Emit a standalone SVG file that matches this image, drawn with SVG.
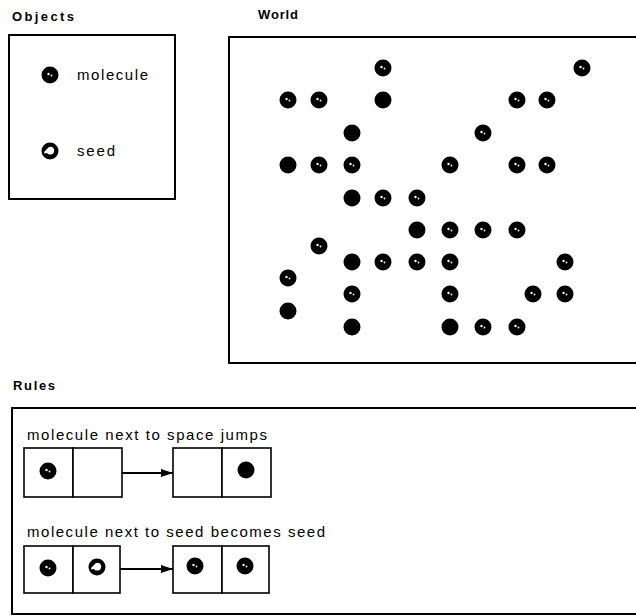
<svg xmlns="http://www.w3.org/2000/svg" width="636" height="616" viewBox="0 0 636 616">
<style>
  .title{font-family:"Liberation Sans",Arial,sans-serif;font-weight:bold;font-size:13px;fill:#000}
  .lbl{font-family:"Liberation Sans",Arial,sans-serif;font-size:15px;fill:#000}
  .box{fill:none;stroke:#000;stroke-width:2}
  .cell{fill:#fff;stroke:#000;stroke-width:1.6}
  .conn{fill:none;stroke:#000;stroke-width:2}
</style>
<defs>
  <g id="mol">
    <circle r="8.5" fill="#000"/>
    <circle cx="-1.5" cy="-1" r="1.2" fill="#fff"/>
    <circle cx="1.5" cy="0.5" r="0.9" fill="#fff"/>
  </g>
  <g id="seed">
    <circle r="8.5" fill="#000"/>
    <path d="M-3,-2 Q-1,-5 2,-4 Q5,-2 4,1 Q3,4 0,3.5 Q-2,3.5 -3,2 L-6,2.5 L-5.5,0.5 Z" fill="#fff"/>
  </g>
  <circle id="dot" r="8.5" fill="#000"/>
  <marker id="ah" viewBox="0 0 12 10" refX="12" refY="5" markerWidth="12" markerHeight="10" markerUnits="userSpaceOnUse" orient="auto">
    <path d="M0,1 L12,5 L0,9 Z" fill="#000"/>
  </marker>
</defs>

<g id="objects">
  <text class="title" x="12" y="21" textLength="62" lengthAdjust="spacing">Objects</text>
  <rect class="box" x="9" y="35" width="166" height="164"/>
  <g id="obj-molecule">
    <use href="#mol" x="50" y="75"/>
    <text class="lbl" x="77" y="80" textLength="71" lengthAdjust="spacing">molecule</text>
  </g>
  <g id="obj-seed">
    <use href="#seed" x="50" y="151"/>
    <text class="lbl" x="77" y="156" textLength="38" lengthAdjust="spacing">seed</text>
  </g>
</g>

<g id="world">
  <text class="title" x="258" y="19" textLength="40" lengthAdjust="spacing">World</text>
  <path class="box" d="M640,37 H229 V363 H640"/>
  <g id="world-dots">
    <use href="#mol" x="383" y="68"/>
    <use href="#mol" x="582" y="68"/>
    <use href="#mol" x="288" y="100"/>
    <use href="#mol" x="319" y="100"/>
    <use href="#dot" x="383" y="100"/>
    <use href="#mol" x="517" y="100"/>
    <use href="#mol" x="547" y="100"/>
    <use href="#dot" x="352" y="133"/>
    <use href="#mol" x="483" y="133"/>
    <use href="#dot" x="288" y="165"/>
    <use href="#mol" x="319" y="165"/>
    <use href="#mol" x="352" y="165"/>
    <use href="#mol" x="450" y="165"/>
    <use href="#mol" x="517" y="165"/>
    <use href="#mol" x="547" y="165"/>
    <use href="#dot" x="352" y="198"/>
    <use href="#mol" x="383" y="198"/>
    <use href="#mol" x="417" y="198"/>
    <use href="#dot" x="417" y="230"/>
    <use href="#mol" x="450" y="230"/>
    <use href="#mol" x="483" y="230"/>
    <use href="#mol" x="517" y="230"/>
    <use href="#mol" x="319" y="246"/>
    <use href="#dot" x="352" y="262"/>
    <use href="#mol" x="383" y="262"/>
    <use href="#mol" x="417" y="262"/>
    <use href="#mol" x="450" y="262"/>
    <use href="#mol" x="565" y="262"/>
    <use href="#mol" x="288" y="278"/>
    <use href="#mol" x="352" y="294"/>
    <use href="#mol" x="450" y="294"/>
    <use href="#mol" x="533" y="294"/>
    <use href="#mol" x="565" y="294"/>
    <use href="#dot" x="288" y="311"/>
    <use href="#dot" x="352" y="327"/>
    <use href="#dot" x="450" y="327"/>
    <use href="#mol" x="483" y="327"/>
    <use href="#mol" x="517" y="327"/>
  </g>
</g>

<g id="rules">
  <text class="title" x="13" y="390" textLength="42" lengthAdjust="spacing">Rules</text>
  <path class="box" d="M640,408 H12 V614 H640"/>
</g>

<g id="rule1">
  <text class="lbl" x="27" y="440" textLength="240" lengthAdjust="spacing">molecule next to space jumps</text>
  <g id="rule1-before">
    <rect class="cell" x="24" y="448" width="49" height="49"/>
    <rect class="cell" x="73" y="448" width="49" height="49"/>
    <use href="#mol" x="48" y="471"/>
  </g>
  <g id="rule1-after">
    <rect class="cell" x="173" y="448" width="49" height="49"/>
    <rect class="cell" x="222" y="448" width="49" height="49"/>
    <use href="#dot" x="246" y="470"/>
  </g>
</g>

<g id="rule2">
  <text class="lbl" x="27" y="537" textLength="298" lengthAdjust="spacing">molecule next to seed becomes seed</text>
  <g id="rule2-before">
    <rect class="cell" x="24" y="546" width="49" height="47"/>
    <rect class="cell" x="73" y="546" width="47" height="47"/>
    <use href="#mol" x="48" y="568"/>
    <use href="#seed" x="97" y="567"/>
  </g>
  <g id="rule2-after">
    <rect class="cell" x="173" y="546" width="49" height="47"/>
    <rect class="cell" x="222" y="546" width="47" height="47"/>
    <use href="#mol" x="195" y="566"/>
    <use href="#mol" x="245" y="566"/>
  </g>
</g>

<g id="connectors">
  <line class="conn" x1="122" y1="473" x2="173" y2="473" marker-end="url(#ah)"/>
  <line class="conn" x1="120" y1="569" x2="173" y2="569" marker-end="url(#ah)"/>
</g>
</svg>
